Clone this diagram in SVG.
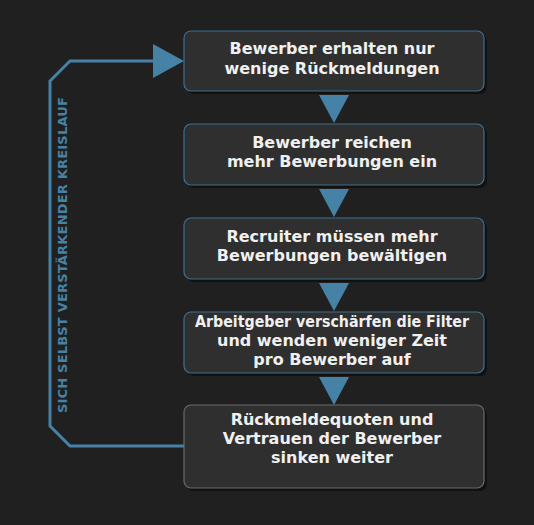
<svg xmlns="http://www.w3.org/2000/svg" width="534" height="525" viewBox="0 0 534 525">
<defs>
<style>
.box{fill:#2f2f2f;stroke:#3f7190;stroke-width:1.2}
.shadow{fill:#111111}
.t{font-family:"DejaVu Sans",sans-serif;font-weight:bold;font-size:16px;fill:#f0f0f0;text-anchor:middle}
.tri{fill:#4682a6}
.loop{fill:none;stroke:#4682a6;stroke-width:3}
.lbl{font-family:"DejaVu Sans",sans-serif;font-weight:bold;font-size:13px;fill:#4682a6;text-anchor:middle;letter-spacing:0.2px}
</style>
</defs>
<rect width="534" height="525" fill="#202020"/>
<g id="connectors">
<polygon class="tri" points="319,95 349,95 334,123"/>
<polygon class="tri" points="319,189 349,189 334,217"/>
<polygon class="tri" points="319,283 349,283 334,311"/>
<polygon class="tri" points="319,377 349,377 334,405"/>
<polyline class="loop" points="184,446 70,446 50,426 50,81 70,61 156,61"/>
<polygon class="tri" points="153,44 184,61 153,78"/>
<text class="lbl" transform="translate(67,255) rotate(-90)">SICH SELBST VERSTÄRKENDER KREISLAUF</text>
</g>
<g id="n1">
<rect class="shadow" x="187" y="34" width="300" height="60" rx="7"/>
<rect class="box" x="184" y="31" width="300" height="60" rx="7"/>
<text class="t" x="332" y="54">Bewerber erhalten nur</text>
<text class="t" x="332" y="74">wenige Rückmeldungen</text>
</g>
<g id="n2">
<rect class="shadow" x="187" y="127" width="300" height="61" rx="7"/>
<rect class="box" x="184" y="124" width="300" height="61" rx="7"/>
<text class="t" x="332" y="148">Bewerber reichen</text>
<text class="t" x="332" y="167">mehr Bewerbungen ein</text>
</g>
<g id="n3">
<rect class="shadow" x="187" y="221" width="300" height="61" rx="7"/>
<rect class="box" x="184" y="218" width="300" height="61" rx="7"/>
<text class="t" x="332" y="242">Recruiter müssen mehr</text>
<text class="t" x="332" y="261">Bewerbungen bewältigen</text>
</g>
<g id="n4">
<rect class="shadow" x="187" y="315" width="300" height="61" rx="7"/>
<rect class="box" x="184" y="312" width="300" height="61" rx="7"/>
<text class="t" x="332" y="327" textLength="274" lengthAdjust="spacingAndGlyphs">Arbeitgeber verschärfen die Filter</text>
<text class="t" x="332" y="346">und wenden weniger Zeit</text>
<text class="t" x="332" y="365">pro Bewerber auf</text>
</g>
<g id="n5">
<rect class="shadow" x="187" y="408" width="300" height="83" rx="7"/>
<rect class="box" x="184" y="405" width="300" height="83" rx="7" style="stroke:#6a6a6a"/>
<text class="t" x="332" y="425">Rückmeldequoten und</text>
<text class="t" x="332" y="444">Vertrauen der Bewerber</text>
<text class="t" x="332" y="463">sinken weiter</text>
</g>
</svg>
